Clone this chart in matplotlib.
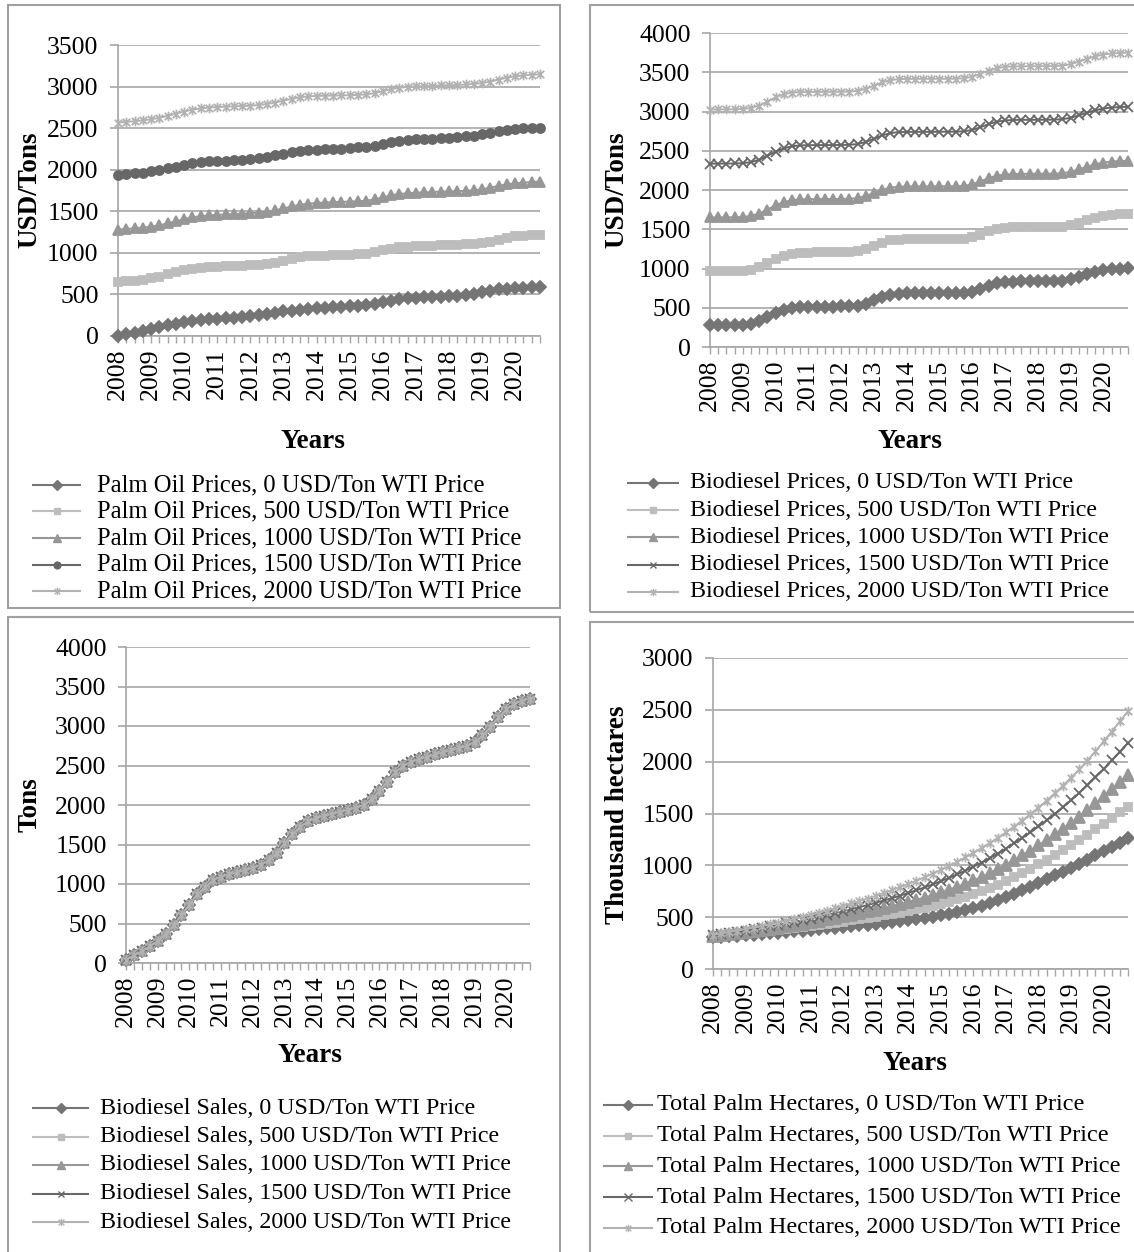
import numpy as np
import matplotlib
matplotlib.use("Agg")
import matplotlib.pyplot as plt
from matplotlib.path import Path
from matplotlib.lines import Line2D
from matplotlib.patches import Rectangle

W, H = 1134, 1252
plt.rcParams['font.family'] = 'Liberation Serif'

# quarterly points, 2008 Q1 .. 2020 Q4
years = [str(y) for y in range(2008, 2021)]
quarter_labels = [years[i // 4] if i % 4 == 0 else '' for i in range(52)]
wti = [0, 500, 1000, 1500, 2000]

palm_0 = [5, 20, 38, 58, 80, 104, 128, 150, 168, 182, 193, 201, 208, 215, 222, 230,
          240, 252, 266, 282, 296, 305, 314, 325, 333, 339, 344, 349, 355, 363, 373, 386,
          404, 425, 443, 455, 462, 466, 470, 474, 479, 487, 497, 511, 527, 544, 560, 571,
          578, 582, 585, 587]
palm_500 = [648, 656, 664, 676, 692, 713, 741, 769, 789, 809, 821, 829, 833, 837, 841, 845,
            849, 858, 870, 882, 906, 926, 946, 958, 962, 966, 970, 974, 978, 982, 990, 1006,
            1031, 1051, 1067, 1075, 1079, 1083, 1087, 1091, 1095, 1099, 1101, 1107, 1115, 1131, 1155, 1180,
            1200, 1208, 1216, 1220]
palm_1000 = [1280, 1287, 1295, 1304, 1316, 1331, 1355, 1380, 1405, 1428, 1442, 1450, 1457, 1462, 1466, 1472,
             1477, 1484, 1496, 1512, 1534, 1558, 1580, 1592, 1600, 1605, 1609, 1613, 1617, 1621, 1628, 1642,
             1666, 1690, 1708, 1718, 1724, 1728, 1732, 1736, 1739, 1743, 1747, 1752, 1763, 1785, 1806, 1825,
             1836, 1845, 1852, 1858]
palm_1500 = [1935, 1945, 1955, 1966, 1979, 1996, 2016, 2038, 2058, 2076, 2090, 2099, 2104, 2108, 2113, 2120,
             2130, 2140, 2153, 2172, 2195, 2212, 2225, 2234, 2240, 2245, 2250, 2255, 2262, 2270, 2279, 2290,
             2310, 2334, 2350, 2360, 2366, 2371, 2375, 2380, 2386, 2394, 2401, 2411, 2426, 2447, 2467, 2482,
             2491, 2496, 2499, 2502]
palm_2000 = [2567, 2575, 2583, 2594, 2606, 2625, 2648, 2675, 2700, 2722, 2738, 2748, 2754, 2758, 2762, 2766,
             2770, 2778, 2790, 2808, 2830, 2853, 2872, 2882, 2887, 2890, 2892, 2894, 2896, 2900, 2906, 2920,
             2945, 2968, 2985, 2996, 3002, 3006, 3010, 3014, 3016, 3020, 3025, 3032, 3042, 3060, 3085, 3107,
             3124, 3134, 3142, 3148]

bio_0 = [277, 278, 279, 280, 284, 297, 327, 377, 432, 472, 500, 510, 513, 514, 515, 515,
         516, 518, 527, 554, 594, 637, 667, 679, 682, 683, 683, 683, 684, 684, 685, 690,
         707, 742, 782, 812, 828, 834, 836, 836, 837, 837, 838, 844, 862, 892, 927, 957,
         979, 992, 999, 1002]
bio_500 = [967, 968, 969, 970, 974, 987, 1017, 1067, 1122, 1162, 1190, 1200, 1203, 1204, 1205, 1205,
           1206, 1208, 1217, 1244, 1284, 1327, 1357, 1369, 1372, 1373, 1373, 1373, 1374, 1374, 1375, 1380,
           1397, 1432, 1472, 1502, 1518, 1524, 1526, 1526, 1527, 1527, 1528, 1534, 1552, 1582, 1617, 1647,
           1669, 1682, 1689, 1692]
bio_1000 = [1650, 1651, 1652, 1653, 1657, 1670, 1700, 1750, 1805, 1845, 1872, 1880, 1883, 1884, 1885, 1885,
            1886, 1888, 1897, 1924, 1962, 2002, 2030, 2042, 2045, 2046, 2046, 2046, 2047, 2047, 2048, 2053,
            2072, 2110, 2152, 2182, 2198, 2204, 2206, 2206, 2207, 2207, 2208, 2214, 2232, 2262, 2297, 2327,
            2349, 2362, 2369, 2372]
bio_1500 = [2335, 2336, 2337, 2338, 2342, 2355, 2385, 2435, 2490, 2530, 2558, 2568, 2571, 2572, 2573, 2573,
            2574, 2576, 2585, 2612, 2652, 2695, 2725, 2737, 2740, 2741, 2741, 2741, 2742, 2742, 2743, 2748,
            2765, 2800, 2840, 2870, 2886, 2892, 2894, 2894, 2895, 2895, 2896, 2902, 2920, 2950, 2985, 3015,
            3037, 3050, 3057, 3060]
bio_2000 = [3025, 3026, 3027, 3028, 3032, 3045, 3075, 3125, 3180, 3220, 3240, 3247, 3249, 3250, 3251, 3251,
            3252, 3254, 3262, 3288, 3328, 3370, 3400, 3412, 3415, 3416, 3416, 3416, 3417, 3417, 3418, 3423,
            3442, 3480, 3522, 3552, 3568, 3574, 3576, 3576, 3577, 3577, 3578, 3584, 3603, 3635, 3672, 3703,
            3726, 3739, 3746, 3750]

# sales come out the same under every WTI price
sales = [42, 97, 148, 211, 279, 372, 478, 605, 740, 871, 964, 1049, 1091, 1121, 1146, 1176,
         1201, 1244, 1303, 1396, 1514, 1633, 1726, 1794, 1832, 1861, 1887, 1912, 1937, 1963, 2001, 2073,
         2183, 2297, 2415, 2496, 2546, 2580, 2606, 2640, 2665, 2690, 2716, 2745, 2800, 2880, 2990, 3110,
         3211, 3279, 3321, 3346]

hect_0 = [305, 310, 315, 320, 326, 332, 338, 344, 350, 356, 363, 370, 377, 384, 391, 398,
          405, 413, 421, 429, 437, 445, 454, 463, 472, 482, 493, 505, 519, 534, 550, 568,
          587, 609, 634, 662, 692, 724, 758, 793, 829, 865, 902, 940, 978, 1017, 1056, 1096,
          1136, 1176, 1218, 1261]
hect_500 = [311, 318, 325, 333, 341, 349, 357, 366, 375, 384, 393, 403, 413, 424, 434, 445,
            456, 468, 480, 492, 504, 517, 531, 545, 559, 574, 591, 609, 628, 649, 671, 695,
            720, 748, 779, 813, 849, 887, 927, 968, 1011, 1055, 1100, 1147, 1195, 1244, 1295, 1347,
            1401, 1455, 1511, 1567]
hect_1000 = [318, 327, 336, 345, 356, 366, 377, 388, 399, 411, 424, 437, 450, 464, 478, 492,
             507, 523, 539, 555, 572, 589, 608, 627, 646, 667, 689, 713, 738, 764, 792, 822,
             854, 888, 924, 964, 1005, 1049, 1095, 1143, 1193, 1245, 1298, 1354, 1412, 1471, 1533, 1598,
             1666, 1733, 1804, 1874]
hect_1500 = [324, 335, 346, 358, 370, 383, 396, 410, 424, 439, 454, 470, 486, 503, 521, 539,
             558, 577, 597, 617, 639, 661, 684, 708, 733, 760, 787, 816, 847, 879, 913, 949,
             987, 1027, 1069, 1114, 1162, 1212, 1264, 1318, 1375, 1434, 1496, 1561, 1628, 1698, 1772, 1849,
             1930, 2012, 2096, 2180]
hect_2000 = [330, 343, 356, 370, 385, 400, 415, 432, 448, 466, 484, 503, 522, 543, 564, 586,
             609, 632, 656, 680, 706, 733, 761, 790, 820, 852, 885, 920, 956, 994, 1034, 1076,
             1120, 1166, 1214, 1265, 1318, 1374, 1432, 1493, 1557, 1624, 1694, 1768, 1845, 1925, 2010, 2100,
             2195, 2290, 2389, 2486]

# Excel-style asterisk: an x with a vertical bar through it
ast = Path([(-1, -1), (1, 1), (-1, 1), (1, -1), (0, -1.3), (0, 1.3)],
           [Path.MOVETO, Path.LINETO, Path.MOVETO, Path.LINETO, Path.MOVETO, Path.LINETO])

c0, c500, c1000, c1500, c2000 = '#757575', '#bdbdbd', '#979797', '#676767', '#b2b2b2'
grid_c = '#a6a6a6'

style_circ = [('D', c0, 6.5), ('s', c500, 6.0), ('^', c1000, 7.0), ('o', c1500, 6.5), (ast, c2000, 7.0)]
style_x = [('D', c0, 6.5), ('s', c500, 6.0), ('^', c1000, 7.0), ('x', c1500, 6.5), (ast, c2000, 7.0)]
style_big = [('D', c0, 6.5), ('s', c500, 6.0), ('^', c1000, 8.5), ('x', c1500, 7.0), (ast, c2000, 7.0)]

fig = plt.figure(figsize=(W / 100, H / 100), dpi=100)


def fx(x):
    return x / W


def fy(y):
    return 1 - y / H


def panel_box(x0, y0, x1, y1):
    fig.patches.append(Rectangle((fx(x0), fy(y1)), fx(x1 - x0), (y1 - y0) / H,
                                 transform=fig.transFigure, fill=False,
                                 edgecolor='#a0a0a0', lw=1.5))


def draw_panel(rect, data, styles, ymax, ylabel, ylab_xy, years_xy, name, leg, leg_fs):
    x0, ytop, x1, ybot = rect
    ax = fig.add_axes([fx(x0), fy(ybot), fx(x1 - x0), (ybot - ytop) / H])
    xs = np.arange(len(data[0]))
    for vals, (mk, col, ms) in zip(data, styles):
        ax.plot(xs, vals, color=col, lw=1.4, marker=mk, ms=ms, mew=1.3,
                mfc=col, mec=col, clip_on=False, zorder=3)
    ax.set_xlim(0, len(xs) - 1)
    ax.set_ylim(0, ymax)
    ax.set_yticks(np.arange(0, ymax + 1, 500))
    ax.yaxis.grid(True, color=grid_c, lw=1.2)
    ax.set_axisbelow(True)
    for s in ['top', 'right']:
        ax.spines[s].set_visible(False)
    for s in ['left', 'bottom']:
        ax.spines[s].set_color(grid_c)
        ax.spines[s].set_linewidth(1.2)
    ax.set_xticks(xs)
    ax.set_xticklabels(quarter_labels, rotation=90, va='top', ha='center')
    ax.tick_params(axis='x', length=5, width=1.0, color=grid_c, pad=4, labelsize=18.5)
    ax.tick_params(axis='y', length=6, width=1.2, color=grid_c, pad=8, labelsize=18.5)
    fig.text(fx(ylab_xy[0]), fy(ylab_xy[1]), ylabel, rotation=90, fontsize=19.5,
             fontweight='bold', ha='center', va='center')
    fig.text(fx(years_xy[0]), fy(years_xy[1]), 'Years', fontsize=19.5,
             fontweight='bold', ha='center', va='center')

    # legend entries laid out one by one under the plot
    hx0, hx1, tx, ly0, ldy = leg
    for k, (mk, col, ms) in enumerate(styles):
        yy = fy(ly0 + k * ldy)
        fig.add_artist(Line2D([fx(hx0), fx(hx1)], [yy, yy], color=col, lw=1.5,
                              transform=fig.transFigure))
        fig.add_artist(Line2D([fx((hx0 + hx1) / 2)], [yy], marker=mk, ms=ms * 0.75,
                              mfc=col, mec=col, mew=1.0, color=col,
                              transform=fig.transFigure))
        fig.text(fx(tx), yy, f'{name}, {wti[k]} USD/Ton WTI Price', fontsize=leg_fs,
                 ha='left', va='center')
    return ax


panel_box(8, 5, 560, 608)
panel_box(590, 5, 1140, 612)
panel_box(8, 617, 560, 1260)
panel_box(590, 622, 1140, 1260)

draw_panel((118, 45, 540, 336), [palm_0, palm_500, palm_1000, palm_1500, palm_2000],
           style_circ, 3500, 'USD/Tons', (30, 190), (313, 441), 'Palm Oil Prices',
           (33, 80, 97, 485, 26.5), 17.7)
draw_panel((710, 33, 1128, 347), [bio_0, bio_500, bio_1000, bio_1500, bio_2000],
           style_x, 4000, 'USD/Tons', (617, 190), (910, 441), 'Biodiesel Prices',
           (628, 678, 690, 483, 27.2), 17.3)
draw_panel((126, 647, 530, 963), [sales] * 5,
           style_x, 4000, 'Tons', (30, 805), (310, 1055), 'Biodiesel Sales',
           (33, 88, 100, 1108, 28.5), 17.3)
draw_panel((713, 658, 1128, 969), [hect_0, hect_500, hect_1000, hect_1500, hect_2000],
           style_big, 3000, 'Thousand hectares', (618, 815), (915, 1063), 'Total Palm Hectares',
           (604, 652, 657, 1105, 30.7), 17.5)

fig.savefig('out.png', dpi=100, facecolor='white')
